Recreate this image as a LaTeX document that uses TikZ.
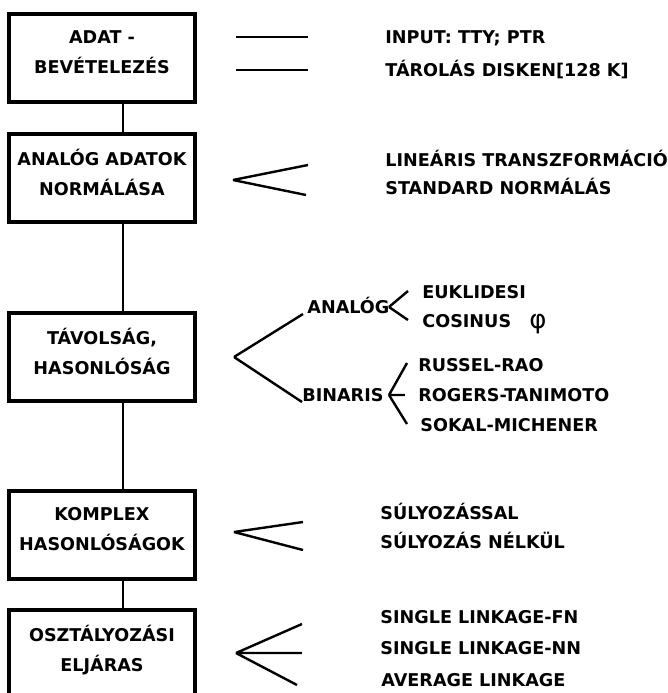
\documentclass[tikz,border=0pt]{standalone}
\usepackage{fontspec}
\setmainfont{DejaVu Sans}
\usetikzlibrary{positioning}

\tikzset{
	box/.style = {draw, line width = 2pt, outer sep = 0pt, minimum width = 93pt, minimum height = 44pt, align = center, text depth = 6pt},
	txt/.style = {anchor = base west, inner sep = 0pt},
	fan/.style = {line width = 1.2pt},
	link/.style = {line width = 1.2pt}
}

\begin{document}
\begin{tikzpicture}[x = 0.5pt, y = -0.5pt, node distance = 16pt, font = \fontsize{8.8pt}{15pt}\selectfont\bfseries]
			\useasboundingbox (0,0) rectangle (668,693);
			\node[box] (adat) at (102,58) {ADAT -\\BEVÉTELEZÉS};
			\node[box, below = 16pt of adat] (norm) {ANALÓG ADATOK\\NORMÁLÁSA};
			\node[box, below = 45.5pt of norm] (tav) {TÁVOLSÁG,\\HASONLÓSÁG};
			\node[box, below = 44.75pt of tav] (komp) {KOMPLEX\\HASONLÓSÁGOK};
			\node[box, below = 15.75pt of komp] (oszt) {OSZTÁLYOZÁSI\\ELJÁRAS};
			\draw[link] ([xshift = 10.5pt]adat.south) -- ([xshift = 10.5pt]norm.north);
			\draw[link] ([xshift = 10.5pt]norm.south) -- ([xshift = 10.5pt]tav.north);
			\draw[link] ([xshift = 10.5pt]tav.south) -- ([xshift = 10.5pt]komp.north);
			\draw[link] ([xshift = 10.5pt]komp.south) -- ([xshift = 10.5pt]oszt.north);
			\node[txt] (inp) at (385,43) {INPUT: TTY; PTR};
			\node[txt] (tar) at (385,76) {TÁROLÁS DISKEN[128 K]};
			\node[txt] (lin) at (385,166) {LINEÁRIS TRANSZFORMÁCIÓ};
			\node[txt] (std) at (385,194) {STANDARD NORMÁLÁS};
			\node[txt] (ana) at (307,313) {ANALÓG};
			\node[txt] (bin) at (302,401) {BINARIS};
			\node[txt] (euk) at (422,298) {EUKLIDESI};
			\node[txt] (cos) at (422,327) {COSINUS};
			\node[inner sep = 0pt, font = \fontsize{13pt}{13pt}\selectfont] (phi) at (538,324) {φ};
			\node[txt] (rus) at (418,371) {RUSSEL-RAO};
			\node[txt] (rog) at (418,401) {ROGERS-TANIMOTO};
			\node[txt] (sok) at (420,431) {SOKAL-MICHENER};
			\node[txt] (suly) at (380,519) {SÚLYOZÁSSAL};
			\node[txt] (nelk) at (380,548) {SÚLYOZÁS NÉLKÜL};
			\node[txt] (sfn) at (380,623) {SINGLE LINKAGE-FN};
			\node[txt] (snn) at (380,654) {SINGLE LINKAGE-NN};
			\node[txt] (avg) at (381,686) {AVERAGE LINKAGE};
			\coordinate (h1) at (236,37);
			\coordinate (h2) at (236,70);
			\coordinate (v2) at (233,180);
			\coordinate (v3) at (234,357);
			\coordinate (va) at (389,307);
			\coordinate (vb) at (389,395);
			\coordinate (v4) at (234,532);
			\coordinate (v5) at (236,653);
			\draw[fan] (h1) -- ++(72,0);
			\draw[fan] (h2) -- ++(72,0);
			\draw[fan] (v2) -- ++(75,-15) (v2) -- ++(73,15);
			\draw[fan] (v3) -- ++(69,-43) (v3) -- ++(68,45);
			\draw[fan] (va) -- ++(19,-16) (va) -- ++(19,13);
			\draw[fan] (vb) -- ++(18,-32) (vb) -- ++(16,0) (vb) -- ++(18,29);
			\draw[fan] (v4) -- ++(69,-10) (v4) -- ++(69,18);
			\draw[fan] (v5) -- ++(66,-29) (v5) -- ++(66,0) (v5) -- ++(61,32);
		\end{tikzpicture}
\end{document}
